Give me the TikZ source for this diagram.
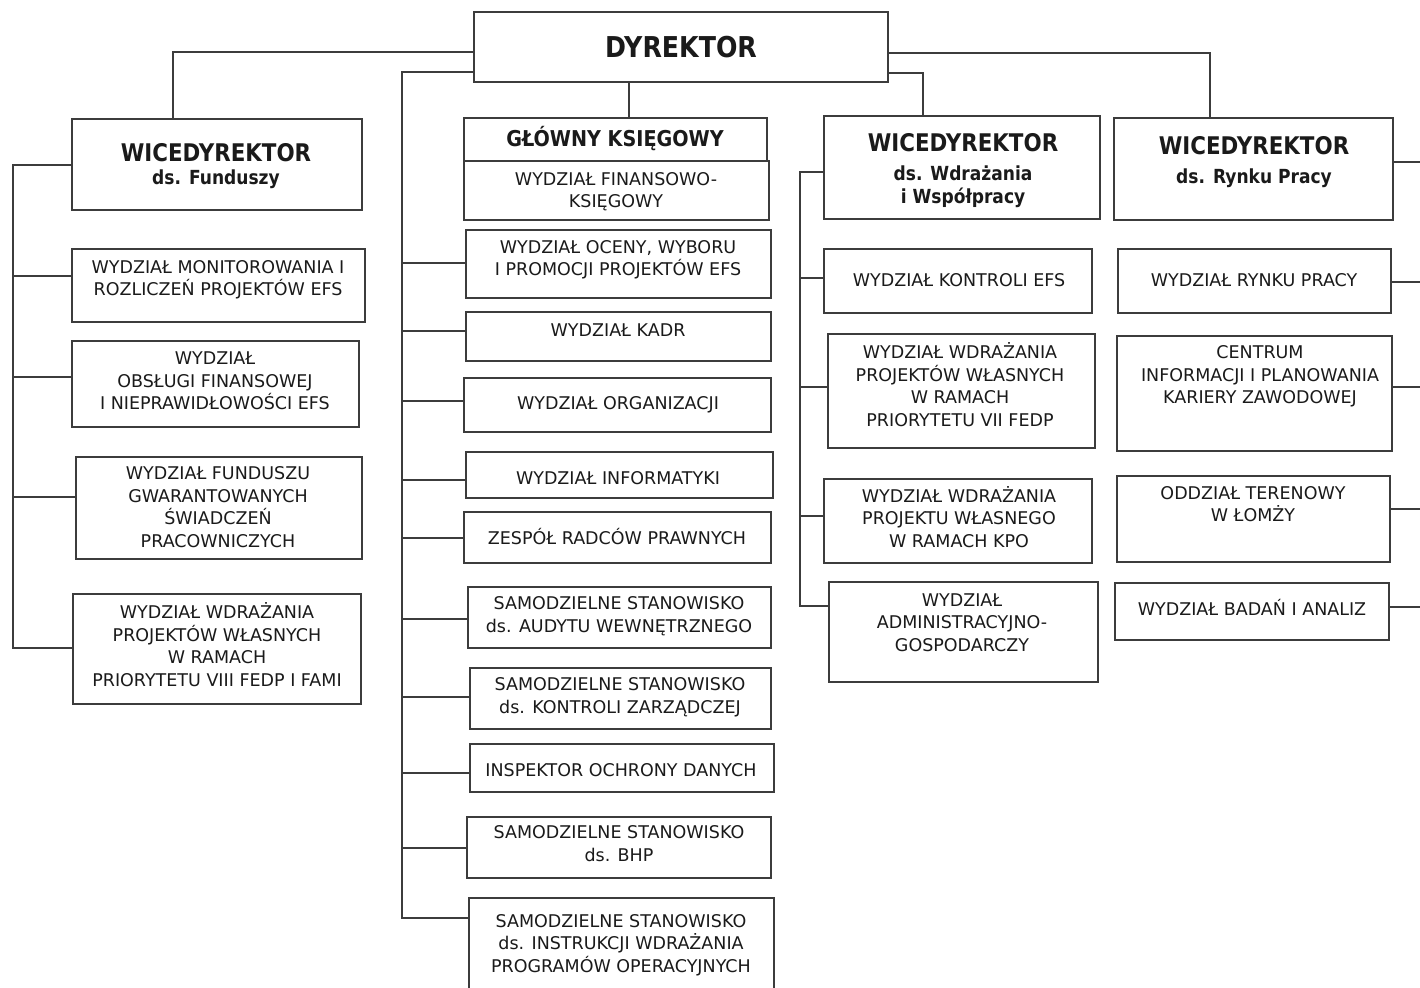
\documentclass[tikz,border=0pt]{standalone}
\usepackage{fontspec}
\setmainfont{DejaVu Sans}
\newfontfamily\tfont{DejaVu Sans}[FakeStretch=0.88]
\usetikzlibrary{fit}
\definecolor{lc}{HTML}{3C3C3C}
\definecolor{tc}{HTML}{1A1A1A}
\begin{document}
\begin{tikzpicture}[x=1pt,y=-1pt,
  bx/.style={draw=lc, line width=1.2pt, inner sep=0pt},
  conn/.style={draw=lc, line width=1.2pt},
  txt/.style={font=\fontsize{17.5}{22.5}\selectfont, align=center, inner sep=0pt, text=tc,
    execute at begin node={\rule{0pt}{17.5pt}},
    execute at end node={\rule[-4.74pt]{0pt}{4.74pt}}},
  tdyr/.style={anchor=base, inner sep=0pt, text=tc, font=\tfont\bfseries\fontsize{28.7}{30}\selectfont},
  tgk/.style={anchor=base, inner sep=0pt, text=tc, font=\tfont\bfseries\fontsize{21.8}{24}\selectfont},
  tone/.style={anchor=base, inner sep=0pt, text=tc, font=\tfont\bfseries\fontsize{24.3}{26}\selectfont},
  ttwo/.style={anchor=base, inner sep=0pt, text=tc, font=\tfont\bfseries\fontsize{19.4}{22}\selectfont}]
\useasboundingbox (0,0) rectangle (1420,987);
\fill[white] (0,0) rectangle (1420,987);

% ---------- boxes ----------
\foreach \n/\xa/\ya/\xb/\yb in {
  dyr/474/12/888/82,
  wf/72/119/362/210, mon/72/249/365/322, obs/72/341/359/427, fun/76/457/362/559, wdr8/73/594/361/704,
  gk/464/118/767/161, fk/464/161/769/220, ocena/466/230/771/298, kadr/466/312/771/361,
  org/464/378/771/432, info/466/452/773/498, zesp/464/512/771/563, audyt/468/587/771/648,
  kontr/470/668/771/729, iod/470/744/774/792, bhp/467/817/771/878, instr/469/898/774/1010,
  ww/824/116/1100/219, kefs/824/249/1092/313, fedp7/828/334/1095/448, kpo/824/479/1092/563, adm/829/582/1098/682,
  wr/1114/118/1393/220, rp/1118/249/1391/313, cent/1117/336/1392/451, odz/1117/476/1390/562, bad/1115/583/1389/640}
  {\node[bx, fit={(\xa,\ya) (\xb,\yb)}] (\n) {};}

% ---------- connectors from DYREKTOR ----------
\coordinate (a1) at (173,52);
\draw[conn] (dyr.west |- a1) -- (a1) -- (a1 |- wf.north);
\coordinate (a2) at (402,72);
\coordinate (a2b) at (402,918);
\draw[conn] (dyr.west |- a2) -- (a2) -- (a2b) -- (a2b -| instr.west);
\coordinate (a3) at (629,82);
\draw[conn] (a3 |- dyr.south) -- (a3 |- gk.north);
\coordinate (a4) at (1210,53);
\draw[conn] (dyr.east |- a4) -- (a4) -- (a4 |- wr.north);
\coordinate (a5) at (923,73);
\draw[conn] (dyr.east |- a5) -- (a5) -- (a5 |- ww.north);

% ---------- left bus ----------
\coordinate (f0) at (13,165);
\coordinate (f4) at (13,648);
\draw[conn] (wf.west |- f0) -- (f0) -- (f4) -- (f4 -| wdr8.west);
\foreach \n/\y in {mon/276, obs/377, fun/497}
  {\coordinate (f-\n) at (13,\y); \draw[conn] (f-\n) -- (f-\n -| \n.west);}

% ---------- middle bus ----------
\foreach \n/\y in {ocena/263, kadr/331, org/401, info/480, zesp/538, audyt/619, kontr/697, iod/773, bhp/848}
  {\coordinate (m-\n) at (402,\y); \draw[conn] (m-\n) -- (m-\n -| \n.west);}

% ---------- Wdrazania bus ----------
\coordinate (w0) at (800,172);
\coordinate (w4) at (800,606);
\draw[conn] (ww.west |- w0) -- (w0) -- (w4) -- (w4 -| adm.west);
\foreach \n/\y in {kefs/278, fedp7/387, kpo/516}
  {\coordinate (w-\n) at (800,\y); \draw[conn] (w-\n) -- (w-\n -| \n.west);}

% ---------- right side ----------
\foreach \n/\y in {wr/162, rp/282, cent/387, odz/509, bad/607}
  {\coordinate (r-\n) at (1420,\y); \draw[conn] (r-\n -| \n.east) -- (r-\n);}

% ---------- titles ----------
\node[tdyr] (t-dyr) at (681,58) {DYREKTOR};
\node[tone] (t-wf1) at (216,161) {WICEDYREKTOR};
\node[ttwo] (t-wf2) at (216,184) {ds. Funduszy};
\node[tgk] (t-gk) at (615,147) {GŁÓWNY KSIĘGOWY};
\node[tone] (t-ww1) at (963,152) {WICEDYREKTOR};
\node[ttwo] (t-ww2) at (963,180) {ds. Wdrażania};
\node[ttwo] (t-ww3) at (963,204) {i Współpracy};
\node[tone] (t-wr1) at (1254,155) {WICEDYREKTOR};
\node[ttwo] (t-wr2) at (1254,183) {ds. Rynku Pracy};

% ---------- texts ----------
\node[txt] (t-mon) at (218,280.5) {WYDZIAŁ MONITOROWANIA I\\ROZLICZEŃ PROJEKTÓW EFS};
\node[txt] (t-obs) at (215,383) {WYDZIAŁ\\OBSŁUGI FINANSOWEJ\\I NIEPRAWIDŁOWOŚCI EFS};
\node[txt] (t-fun) at (218,509.5) {WYDZIAŁ FUNDUSZU\\GWARANTOWANYCH\\ŚWIADCZEŃ\\PRACOWNICZYCH};
\node[txt] (t-wdr8) at (217,647) {WYDZIAŁ WDRAŻANIA\\PROJEKTÓW WŁASNYCH\\W RAMACH\\PRIORYTETU VIII FEDP I FAMI};

\node[txt] (t-fk) at (616,192.5) {WYDZIAŁ FINANSOWO-\\KSIĘGOWY};
\node[txt] (t-ocena) at (618,260.5) {WYDZIAŁ OCENY, WYBORU\\I PROMOCJI PROJEKTÓW EFS};
\node[txt] (t-kadr) at (618,330) {WYDZIAŁ KADR};
\node[txt] (t-org) at (618,403) {WYDZIAŁ ORGANIZACJI};
\node[txt] (t-info) at (618,478) {WYDZIAŁ INFORMATYKI};
\node[txt] (t-zesp) at (617,538) {ZESPÓŁ RADCÓW PRAWNYCH};
\node[txt] (t-audyt) at (619,617) {SAMODZIELNE STANOWISKO\\ds. AUDYTU WEWNĘTRZNEGO};
\node[txt] (t-kontr) at (620,698) {SAMODZIELNE STANOWISKO\\ds. KONTROLI ZARZĄDCZEJ};
\node[txt] (t-iod) at (621,770) {INSPEKTOR OCHRONY DANYCH};
\node[txt] (t-bhp) at (619,846) {SAMODZIELNE STANOWISKO\\ds. BHP};
\node[txt] (t-instr) at (621,945.5) {SAMODZIELNE STANOWISKO\\ds. INSTRUKCJI WDRAŻANIA\\PROGRAMÓW OPERACYJNYCH};

\node[txt] (t-kefs) at (959,280) {WYDZIAŁ KONTROLI EFS};
\node[txt] (t-fedp7) at (960,387) {WYDZIAŁ WDRAŻANIA\\PROJEKTÓW WŁASNYCH\\W RAMACH\\PRIORYTETU VII FEDP};
\node[txt] (t-kpo) at (959,519) {WYDZIAŁ WDRAŻANIA\\PROJEKTU WŁASNEGO\\W RAMACH KPO};
\node[txt] (t-adm) at (962,624.5) {WYDZIAŁ\\ADMINISTRACYJNO-\\GOSPODARCZY};

\node[txt] (t-rp) at (1254,280) {WYDZIAŁ RYNKU PRACY};
\node[txt] (t-cent) at (1260,377) {CENTRUM\\INFORMACJI I PLANOWANIA\\KARIERY ZAWODOWEJ};
\node[txt] (t-odz) at (1253,506.5) {ODDZIAŁ TERENOWY\\W ŁOMŻY};
\node[txt] (t-bad) at (1252,609) {WYDZIAŁ BADAŃ I ANALIZ};
\end{tikzpicture}
\end{document}
